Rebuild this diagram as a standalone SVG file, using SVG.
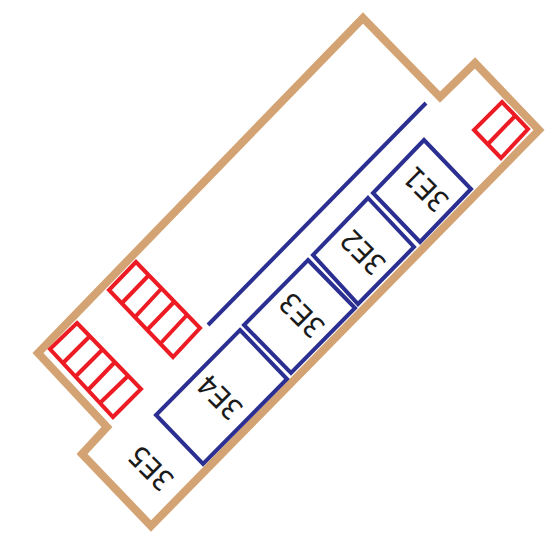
<svg xmlns="http://www.w3.org/2000/svg" width="557" height="546" viewBox="0 0 557 546">
<style>
.wall{fill:none;stroke:#d4a373;stroke-width:8}
.room{fill:none;stroke:#2b2f91;stroke-width:4}
.red{fill:none;stroke:#ed1c24;stroke-width:4}
text{font-family:"DejaVu Sans Condensed","DejaVu Sans",sans-serif;font-size:29px;fill:#1a1a1a;text-anchor:middle;dominant-baseline:central}
</style>
<rect width="557" height="546" fill="#fff"/>
<polygon id="wall" class="wall" points="363,18 440,97 475,63 539,130 151,526 82,454 107,427 38,353"/>
<line id="partition" class="room" x1="208" y1="325" x2="426" y2="103"/>
<g id="stair-right" class="red"><polygon points="502,102 528,129 501,158 474,130"/><line x1="515" y1="116" x2="488" y2="144"/></g>
<g id="stair-upper" class="red"><polygon points="136,262 200,328 173,357 109,290"/><path d="M149,275 122,303M162,288 135,317M174,302 147,330M187,315 160,344"/></g>
<g id="stair-lower" class="red"><polygon points="77,323 141,389 113,417 50,349"/><path d="M90,336 63,363M103,349 76,376M115,362 88,390M128,376 100,403"/></g>
<g id="n3E1"><polygon class="room" points="424,140 471,189 420,242 373,193"/><text transform="translate(426,189) rotate(225)">3E1</text></g>
<g id="n3E2"><polygon class="room" points="368,198 414,247 358,304 313,255"/><text transform="translate(363,252) rotate(225)">3E2</text></g>
<g id="n3E3"><polygon class="room" points="308,260 355,308 291,373 244,325"/><text transform="translate(302,315) rotate(225)">3E3</text></g>
<g id="n3E4"><polygon class="room" points="240,330 287,379 203,464 156,415"/><text transform="translate(220,397) rotate(225)">3E4</text></g>
<g id="n3E5"><text transform="translate(151,468) rotate(225)">3E5</text></g>
</svg>
